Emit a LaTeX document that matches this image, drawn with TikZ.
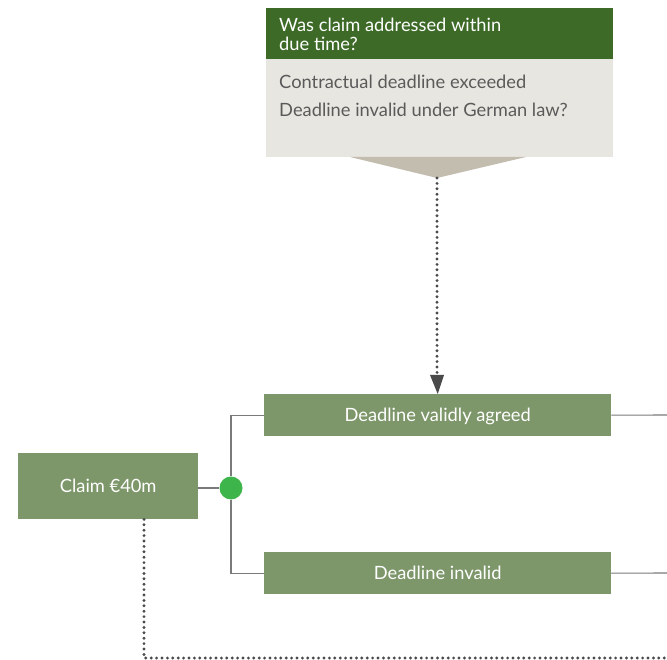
\documentclass[tikz,border=0pt]{standalone}
\usepackage{fontspec}
\setmainfont{Lato}
\usetikzlibrary{arrows.meta}
\definecolor{hdgreen}{HTML}{3D6B27}
\definecolor{beige}{HTML}{E8E6E0}
\definecolor{taupe}{HTML}{C3BDB0}
\definecolor{boxgreen}{HTML}{7D976A}
\definecolor{dotgreen}{HTML}{3DB54A}
\definecolor{txtgray}{HTML}{5A5A5A}
\definecolor{lngray}{HTML}{7A7A7A}
\definecolor{dotgray}{HTML}{4A4A4A}
\tikzset{
  gbox/.style={fill=boxgreen, text=white, inner sep=0pt, text depth=0pt, font=\fontsize{18.3}{21}\selectfont},
  tline/.style={draw=lngray, line width=1.1pt},
  dotline/.style={draw=dotgray, line width=3.2pt, line cap=round, dash pattern=on 0pt off 5.4pt}
}
\begin{document}
\begin{tikzpicture}[x=1pt,y=-1pt]
\useasboundingbox (0,0) rectangle (667,660);
% top question box
\node[fill=hdgreen, text=white, anchor=north west, minimum width=347pt, minimum height=51pt, inner sep=0pt, outer sep=0pt] (hd) at (266,8) {};
\node[anchor=north west, text=white, align=left, font=\fontsize{18.3}{19.5}\selectfont, inner sep=0pt] (hdtxt) at (279,17.5) {Was claim addressed within\\due time?};
\node[fill=beige, anchor=north west, minimum width=347pt, minimum height=98pt, inner sep=0pt, outer sep=0pt] (body) at (266,59) {};
\node[anchor=north west, text=txtgray, align=left, font=\fontsize{18.3}{28.5}\selectfont, inner sep=0pt] (bodytxt) at (279,74.5) {Contractual deadline exceeded\\Deadline invalid under German law?};
\coordinate (apex) at (437,178);
\fill[taupe] (350,157) -- (526,157) -- (apex) -- cycle;
% boxes
\node[gbox, minimum width=347pt, minimum height=42pt, anchor=north west] (valid) at (264,394) {Deadline validly agreed};
\node[gbox, minimum width=347pt, minimum height=42pt, anchor=north west] (invalid) at (264,552) {Deadline invalid};
\node[gbox, minimum width=180pt, minimum height=66pt, anchor=north west] (claim) at (18,453) {Claim €40m};
\node[circle, fill=dotgreen, minimum size=23pt, inner sep=0pt] (dot) at (231,488) {};
% connectors
\draw[tline] (dot.west -| claim.east) -- (dot.west);
\draw[tline] (dot.north) |- (valid.west);
\draw[tline] (dot.south) |- (invalid.west);
\coordinate (vr) at (667,415);
\coordinate (ir) at (667,573);
\draw[tline] (valid.east) -- (vr);
\draw[tline] (invalid.east) -- (ir);
\draw[dotline] (apex) -- (437,376);
\draw[draw=none, fill=dotgray] (430,375) -- (444,375) -- (valid.north) -- cycle;
\coordinate (bl) at (144,658);
\coordinate (br) at (667,658);
\draw[dotline] (claim.south -| bl) -- (bl) -- (br);
\end{tikzpicture}
\end{document}
